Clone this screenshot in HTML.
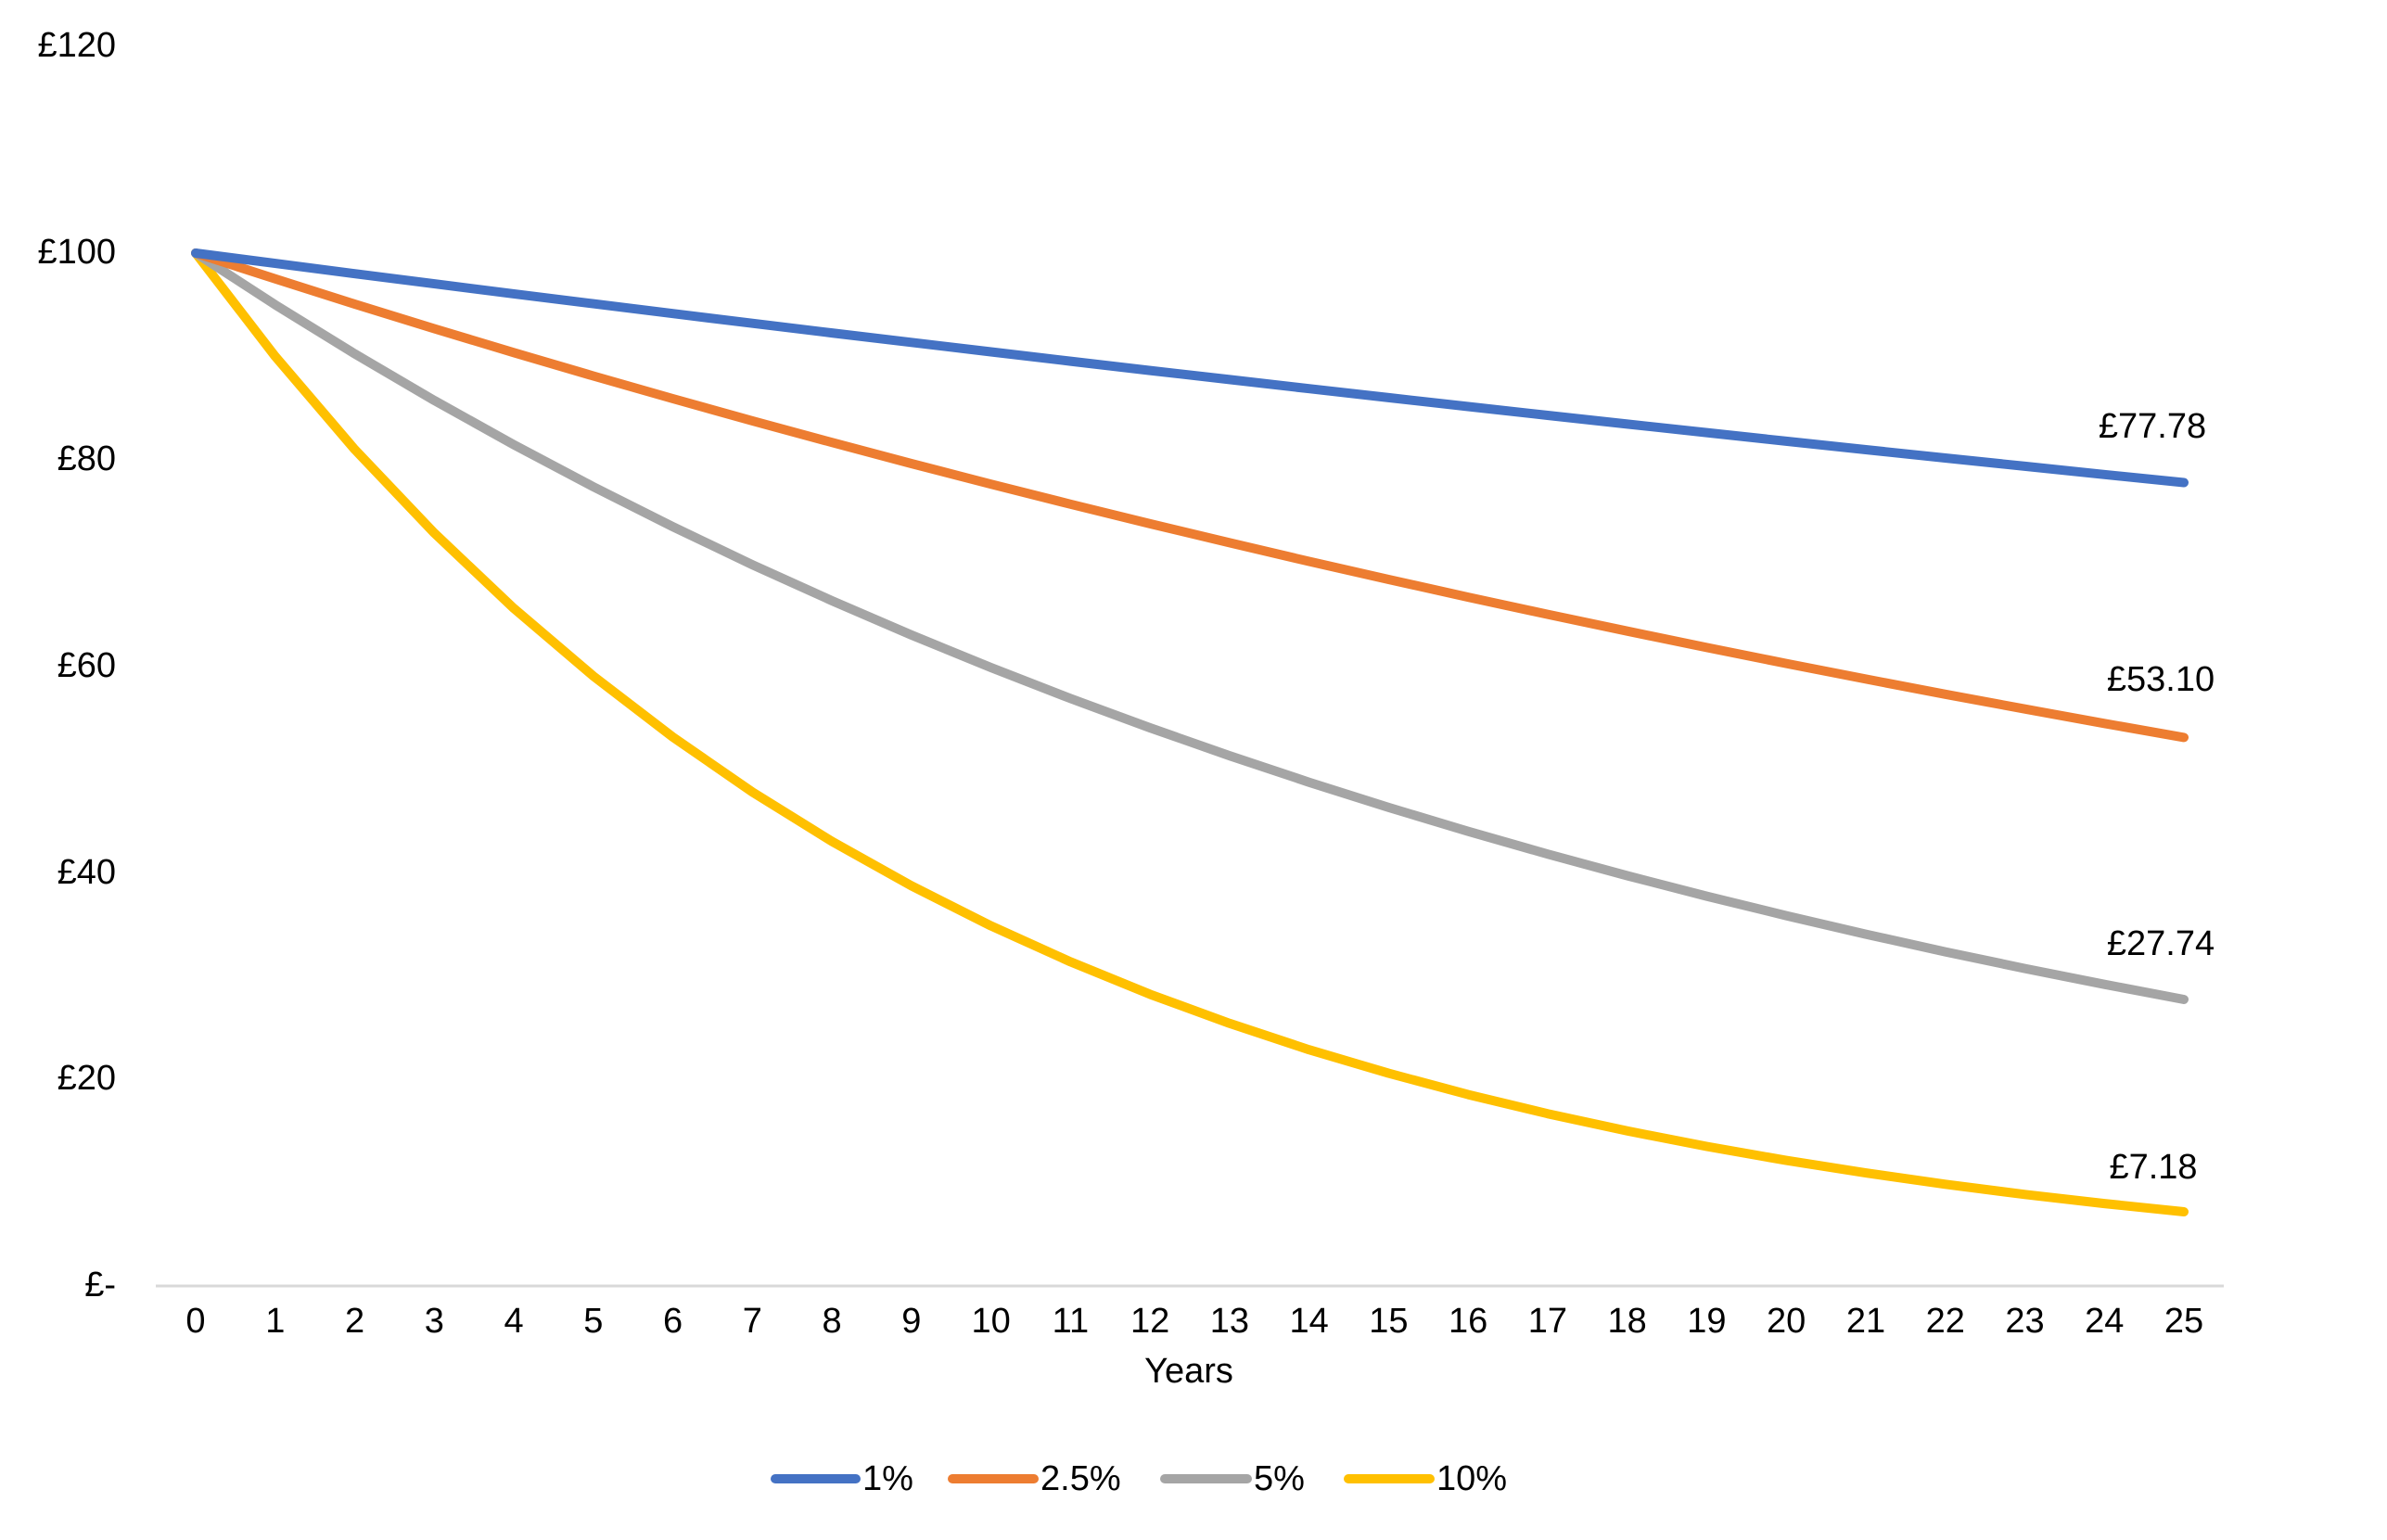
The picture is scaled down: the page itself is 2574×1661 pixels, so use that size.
<!DOCTYPE html>
<html><head><meta charset="utf-8"><style>
html,body{margin:0;padding:0;background:#fff;}
svg text{font-family:"Liberation Sans",sans-serif;fill:#000;}
</style></head><body>
<svg id="c" width="2574" height="1656" viewBox="0 0 2574 1656" xmlns="http://www.w3.org/2000/svg">
<rect width="2574" height="1656" fill="#fff"/>
<g font-size="38" text-anchor="end">
<text x="125" y="61">£120</text>
<text x="125" y="284">£100</text>
<text x="125" y="507">£80</text>
<text x="125" y="730">£60</text>
<text x="125" y="953">£40</text>
<text x="125" y="1175">£20</text>
<text x="125" y="1398">£-</text>
</g>
<line x1="168" y1="1387" x2="2398" y2="1387" stroke="#D9D9D9" stroke-width="3"/>
<g id="xl" font-size="38" text-anchor="middle"></g>
<text x="1282" y="1491" font-size="38" text-anchor="middle">Years</text>
<g id="series" fill="none" stroke-width="10" stroke-linejoin="round" stroke-linecap="round"></g>
<g font-size="38" text-anchor="middle">
<text x="2321" y="472">£77.78</text>
<text x="2330" y="745">£53.10</text>
<text x="2330" y="1030">£27.74</text>
<text x="2322" y="1271">£7.18</text>
</g>
<g stroke-width="10" stroke-linecap="round">
<line x1="836" y1="1595" x2="923" y2="1595" stroke="#4472C4"/>
<line x1="1027" y1="1595" x2="1115" y2="1595" stroke="#ED7D31"/>
<line x1="1256" y1="1595" x2="1345" y2="1595" stroke="#A5A5A5"/>
<line x1="1454" y1="1595" x2="1542" y2="1595" stroke="#FFC000"/>
</g>
<g font-size="38">
<text x="930" y="1607">1%</text>
<text x="1122" y="1607">2.5%</text>
<text x="1352" y="1607">5%</text>
<text x="1549" y="1607">10%</text>
</g>
</svg>
<script>
var NS="http://www.w3.org/2000/svg";
var x0=211,dx=85.76,y0=1387,sy=11.14;
var xl=document.getElementById("xl");
for(var i=0;i<=25;i++){var t=document.createElementNS(NS,"text");t.setAttribute("x",x0+dx*i);t.setAttribute("y",1437);t.textContent=i;xl.appendChild(t);}
var s=document.getElementById("series");
[[0.01,"#4472C4"],[0.025,"#ED7D31"],[0.05,"#A5A5A5"],[0.1,"#FFC000"]].reverse().forEach(function(r){
var p=[];for(var i=0;i<=25;i++){var v=100*Math.pow(1-r[0],i);p.push((x0+dx*i).toFixed(1)+","+(y0-v*sy).toFixed(1));}
var pl=document.createElementNS(NS,"polyline");pl.setAttribute("points",p.join(" "));pl.setAttribute("stroke",r[1]);s.appendChild(pl);});
</script>
</body></html>
